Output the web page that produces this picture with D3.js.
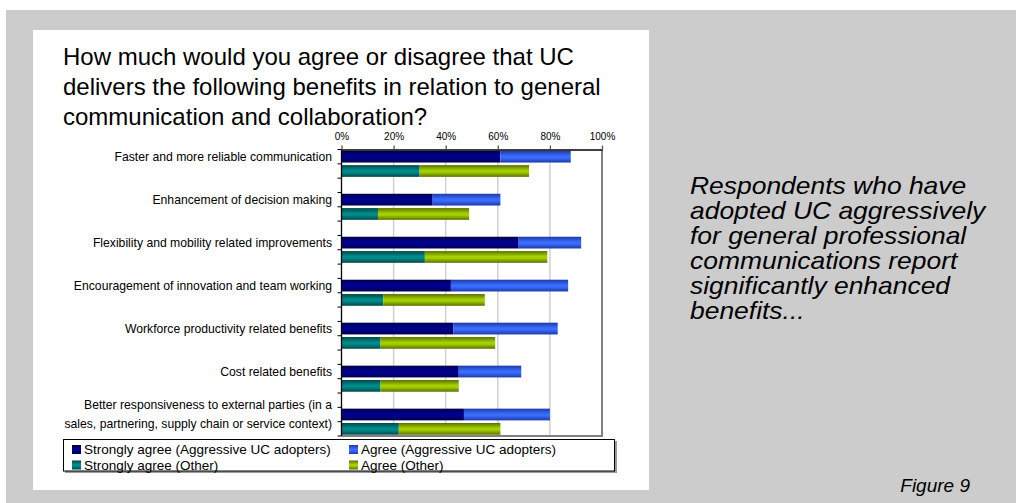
<!DOCTYPE html>
<html>
<head>
<meta charset="utf-8">
<script src="https://cdn.jsdelivr.net/npm/d3@7"></script>
<style>
  html, body { margin: 0; padding: 0; background: #ffffff; }
  svg { display: block; font-family: "Liberation Sans", Arial, sans-serif; }
</style>
</head>
<body>
<svg id="chart" width="1016" height="503"></svg>
<script>
// Benefit categories (one group of two bars each)
const categories = [
  ["Faster and more reliable communication"],
  ["Enhancement of decision making"],
  ["Flexibility and mobility related improvements"],
  ["Encouragement of innovation and team working"],
  ["Workforce productivity related benefits"],
  ["Cost related benefits"],
  ["Better responsiveness to external parties (in a", "sales, partnering, supply chain or service context)"]
];

// Percent of respondents
const strongAggressive = [61, 35, 68, 42, 43, 45, 47];
const agreeAggressive  = [27, 26, 24, 45, 40, 24, 33];
const strongOther      = [30, 14, 32, 16, 15, 15, 22];
const agreeOther       = [42, 35, 47, 39, 44, 30, 39];

const seriesNames = [
  "Strongly agree (Aggressive UC adopters)",
  "Agree (Aggressive UC adopters)",
  "Strongly agree (Other)",
  "Agree (Other)"
];
const tickValues = [0, 20, 40, 60, 80, 100];

const titleLines = [
  "How much would you agree or disagree that UC",
  "delivers the following benefits in relation to general",
  "communication and collaboration?"
];
const noteLines = [
  "Respondents who have",
  "adopted UC aggressively",
  "for general professional",
  "communications report",
  "significantly enhanced",
  "benefits..."
];

const svg = d3.select("#chart");

// gradient fills: [edge, centre]
const palette = [
  ["#00004a", "#000090"],
  ["#1c3aa8", "#3a6cff"],
  ["#004848", "#008a8a"],
  ["#5a7000", "#a4d000"]
];
const defs = svg.append("defs");
palette.forEach((c, i) => {
  const g = defs.append("linearGradient").attr("id", "grad" + i)
    .attr("x1", 0).attr("y1", 0).attr("x2", 0).attr("y2", 1);
  g.append("stop").attr("offset", "0%").attr("stop-color", c[0]);
  g.append("stop").attr("offset", "45%").attr("stop-color", c[1]);
  g.append("stop").attr("offset", "60%").attr("stop-color", c[1]);
  g.append("stop").attr("offset", "100%").attr("stop-color", c[0]);
});

// backdrop panels
svg.append("rect").attr("x", 6).attr("y", 10).attr("width", 1010).attr("height", 493).attr("fill", "#cccccc");
svg.append("rect").attr("x", 33).attr("y", 30).attr("width", 616).attr("height", 460).attr("fill", "#ffffff");

// title
svg.append("g").selectAll("text").data(titleLines).join("text")
  .attr("x", 63).attr("y", (d, i) => 65 + i * 30)
  .attr("font-size", 24).attr("fill", "#000").text(d => d);

// side note (slightly widened italic)
svg.append("g").attr("transform", "translate(690,0) scale(1.15,1)")
  .selectAll("text").data(noteLines).join("text")
  .attr("x", 0).attr("y", (d, i) => 194 + i * 25)
  .attr("font-size", 23).attr("font-style", "italic").attr("fill", "#000").text(d => d);

svg.append("text").attr("x", 970).attr("y", 492).attr("text-anchor", "end")
  .attr("font-size", 19).attr("font-style", "italic").text("Figure 9");

// plot area bounds
const plotLeft = 341.5, plotRight = 602, plotTop = 149.5, plotBottom = 436;
const x = d3.scaleLinear().domain([0, 100]).range([plotLeft, plotRight]);

// 7 groups of two rows with a blank row between groups -> 20 rows
const rowIds = [];
categories.forEach((c, i) => {
  rowIds.push("g" + i + "a", "g" + i + "o");
  if (i < categories.length - 1) rowIds.push("gap" + i);
});
const y = d3.scaleBand().domain(rowIds).range([plotTop, plotBottom]).paddingInner(0.18).paddingOuter(0.09);

// gridlines
svg.append("g").selectAll("line").data(tickValues.filter(v => v > 0 && v < 100)).join("line")
  .attr("x1", d => x(d)).attr("x2", d => x(d)).attr("y1", plotTop).attr("y2", plotBottom)
  .attr("stroke", "#d0d0d0").attr("stroke-width", 1.5);

// plot frame (right and bottom)
svg.append("path")
  .attr("d", `M${plotLeft},${plotBottom}H${plotRight}V${plotTop}`)
  .attr("fill", "none").attr("stroke", "#808080").attr("stroke-width", 2);

// bars
const rows = [];
categories.forEach((c, i) => {
  rows.push({ id: "g" + i + "a", parts: [[0, strongAggressive[i]], [strongAggressive[i], strongAggressive[i] + agreeAggressive[i]]], fills: [0, 1] });
  rows.push({ id: "g" + i + "o", parts: [[0, strongOther[i]], [strongOther[i], strongOther[i] + agreeOther[i]]], fills: [2, 3] });
});
const barG = svg.append("g");
rows.forEach(r => {
  r.parts.forEach((p, k) => {
    barG.append("rect")
      .attr("x", x(p[0])).attr("width", x(p[1]) - x(p[0]))
      .attr("y", y(r.id)).attr("height", y.bandwidth())
      .attr("fill", `url(#grad${r.fills[k]})`);
  });
});

// top axis
const xAxis = d3.axisTop(x).tickValues(tickValues).tickFormat(d => d + "%").tickSize(4).tickSizeOuter(0);
const gx = svg.append("g").attr("transform", `translate(0,${plotTop})`).call(xAxis);
gx.select(".domain").attr("stroke", "#000").attr("stroke-width", 1.3);
gx.selectAll(".tick line").attr("stroke", "#555").attr("stroke-width", 1.3);
gx.selectAll(".tick text").attr("font-size", 10).attr("font-family", "Liberation Sans, Arial, sans-serif").attr("fill", "#000").attr("dy", "-0.3em");

// left category axis with ticks at every row boundary
const boundaries = d3.range(rowIds.length + 1).map(i => plotTop + i * (plotBottom - plotTop) / rowIds.length);
svg.append("line").attr("x1", plotLeft).attr("x2", plotLeft).attr("y1", plotTop).attr("y2", plotBottom)
  .attr("stroke", "#000").attr("stroke-width", 1.3);
svg.append("g").selectAll("line").data(boundaries).join("line")
  .attr("x1", plotLeft - 4).attr("x2", plotLeft).attr("y1", d => d).attr("y2", d => d)
  .attr("stroke", "#000").attr("stroke-width", 1);

// category labels on the first row of each group
const labG = svg.append("g").attr("font-size", 12.2).attr("text-anchor", "end").attr("fill", "#000");
categories.forEach((lines, i) => {
  const cy = y("g" + i + "a") + y.bandwidth() / 2;
  lines.forEach((t, j) => {
    labG.append("text").attr("x", 332)
      .attr("y", cy + (j - (lines.length - 1) / 2) * 19)
      .attr("dy", "0.35em").text(t);
  });
});

// legend
const lg = svg.append("g");
lg.append("rect").attr("x", 65).attr("y", 441).attr("width", 552).attr("height", 32).attr("fill", "#999");
lg.append("rect").attr("x", 63.5).attr("y", 439.5).attr("width", 551).attr("height", 31.5)
  .attr("fill", "#fff").attr("stroke", "#000").attr("stroke-width", 1);
seriesNames.forEach((name, i) => {
  const col = i % 2, row = Math.floor(i / 2);
  const lx = col === 0 ? 72 : 349;
  const ly = 449.5 + row * 15.5;
  lg.append("rect").attr("x", lx).attr("y", ly - 4.5).attr("width", 9).attr("height", 9)
    .attr("fill", `url(#grad${i})`);
  lg.append("text").attr("x", lx + 12).attr("y", ly).attr("dy", "0.35em")
    .attr("font-size", 13.5).text(name);
});
</script>
</body>
</html>
